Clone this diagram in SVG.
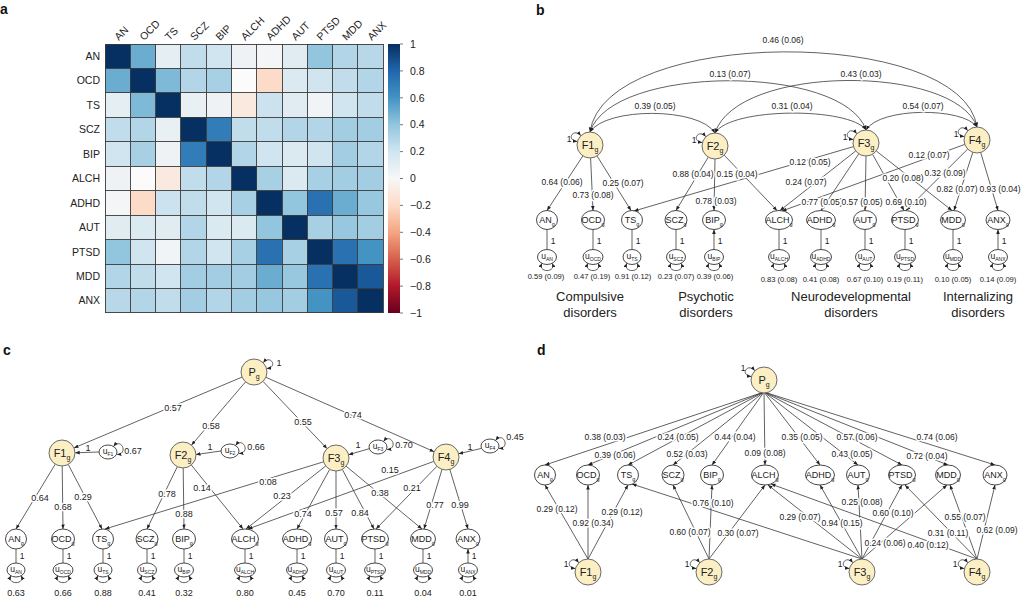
<svg xmlns="http://www.w3.org/2000/svg" width="1024" height="597" viewBox="0 0 1024 597">
<defs>
<marker id="ah" viewBox="0 0 10 10" refX="10" refY="5" markerWidth="4.5" markerHeight="4.5" markerUnits="userSpaceOnUse" orient="auto-start-reverse"><path d="M0,1 L10,5 L0,9 z" fill="#222"/></marker>
<linearGradient id="cb" x1="0" y1="0" x2="0" y2="1">
<stop offset="0" stop-color="#053061"/><stop offset="0.1" stop-color="#2166ac"/><stop offset="0.2" stop-color="#4393c3"/><stop offset="0.3" stop-color="#92c5de"/><stop offset="0.4" stop-color="#d1e5f0"/><stop offset="0.5" stop-color="#f7f7f7"/><stop offset="0.6" stop-color="#fddbc7"/><stop offset="0.7" stop-color="#f4a582"/><stop offset="0.8" stop-color="#d6604d"/><stop offset="0.9" stop-color="#b2182b"/><stop offset="1" stop-color="#67001f"/>
</linearGradient>
</defs>
<style>
text{font-family:"Liberation Sans",Arial,Helvetica,sans-serif;fill:#222}
.pl{font-size:14px;font-weight:bold;fill:#111}
.hl{font-size:10.5px}
.ln{fill:none;stroke:#3a3a3a;stroke-width:0.8}
.ar{marker-end:url(#ah)}
.db{marker-start:url(#ah);marker-end:url(#ah)}
.fac{fill:#fcefc4;stroke:#6b6b6b;stroke-width:1}
.obs{fill:#fff;stroke:#333;stroke-width:0.9}
.nt{font-size:9px;text-anchor:middle}
.ft{font-size:11px;text-anchor:middle}
.ut{font-size:8.5px;text-anchor:middle}
.lb{font-size:8.5px;text-anchor:middle;stroke:#fff;stroke-width:3px;paint-order:stroke;stroke-linejoin:round}
.lc{font-size:9px;text-anchor:middle;stroke:#fff;stroke-width:3px;paint-order:stroke;stroke-linejoin:round}
.lv{font-size:7.6px;text-anchor:middle}
.vc{font-size:9px;text-anchor:middle}
.one{font-size:8.5px;text-anchor:middle}
.grp{font-size:13px;text-anchor:middle}
</style>
<rect width="1024" height="597" fill="#fff"/>

<!-- ================= PANEL A ================= -->
<g id="panel-a">
<text class="pl" x="0" y="14">a</text>
<g class="hl">
<text transform="rotate(-45 118.7 41)" x="118.7" y="41">AN</text>
<text transform="rotate(-45 144 41)" x="144" y="41">OCD</text>
<text transform="rotate(-45 169.3 41)" x="169.3" y="41">TS</text>
<text transform="rotate(-45 194.6 41)" x="194.6" y="41">SCZ</text>
<text transform="rotate(-45 219.9 41)" x="219.9" y="41">BIP</text>
<text transform="rotate(-45 245.2 41)" x="245.2" y="41">ALCH</text>
<text transform="rotate(-45 270.5 41)" x="270.5" y="41">ADHD</text>
<text transform="rotate(-45 295.8 41)" x="295.8" y="41">AUT</text>
<text transform="rotate(-45 321.1 41)" x="321.1" y="41">PTSD</text>
<text transform="rotate(-45 346.4 41)" x="346.4" y="41">MDD</text>
<text transform="rotate(-45 371.7 41)" x="371.7" y="41">ANX</text>
</g>
<g class="hl" text-anchor="end">
<text x="100" y="59.9">AN</text>
<text x="100" y="84.35">OCD</text>
<text x="100" y="108.8">TS</text>
<text x="100" y="133.25">SCZ</text>
<text x="100" y="157.7">BIP</text>
<text x="100" y="182.15">ALCH</text>
<text x="100" y="206.6">ADHD</text>
<text x="100" y="231.05">AUT</text>
<text x="100" y="255.5">PTSD</text>
<text x="100" y="279.95">MDD</text>
<text x="100" y="304.4">ANX</text>
</g>
<g transform="translate(105 44) scale(25.3 24.45)" shape-rendering="crispEdges">
<rect x="0" y="0" width="1" height="1" fill="#053061"/><rect x="1" y="0" width="1" height="1" fill="#6bacd1"/><rect x="2" y="0" width="1" height="1" fill="#e4eef3"/><rect x="3" y="0" width="1" height="1" fill="#c1ddec"/><rect x="4" y="0" width="1" height="1" fill="#d1e5f0"/><rect x="5" y="0" width="1" height="1" fill="#eef2f5"/><rect x="6" y="0" width="1" height="1" fill="#f3f5f6"/><rect x="7" y="0" width="1" height="1" fill="#e0ecf2"/><rect x="8" y="0" width="1" height="1" fill="#92c5de"/><rect x="9" y="0" width="1" height="1" fill="#b2d5e7"/><rect x="10" y="0" width="1" height="1" fill="#b8d8e9"/>
<rect x="0" y="1" width="1" height="1" fill="#6bacd1"/><rect x="1" y="1" width="1" height="1" fill="#053061"/><rect x="2" y="1" width="1" height="1" fill="#7eb9d8"/><rect x="3" y="1" width="1" height="1" fill="#b2d5e7"/><rect x="4" y="1" width="1" height="1" fill="#a8d0e5"/><rect x="5" y="1" width="1" height="1" fill="#fbfbfb"/><rect x="6" y="1" width="1" height="1" fill="#fcdcc9"/><rect x="7" y="1" width="1" height="1" fill="#dbeaf1"/><rect x="8" y="1" width="1" height="1" fill="#d1e5f0"/><rect x="9" y="1" width="1" height="1" fill="#c1ddec"/><rect x="10" y="1" width="1" height="1" fill="#b2d5e7"/>
<rect x="0" y="2" width="1" height="1" fill="#e4eef3"/><rect x="1" y="2" width="1" height="1" fill="#7eb9d8"/><rect x="2" y="2" width="1" height="1" fill="#053061"/><rect x="3" y="2" width="1" height="1" fill="#e8f0f4"/><rect x="4" y="2" width="1" height="1" fill="#eef2f5"/><rect x="5" y="2" width="1" height="1" fill="#fae9df"/><rect x="6" y="2" width="1" height="1" fill="#cce3ef"/><rect x="7" y="2" width="1" height="1" fill="#e0ecf2"/><rect x="8" y="2" width="1" height="1" fill="#f1f4f6"/><rect x="9" y="2" width="1" height="1" fill="#d1e5f0"/><rect x="10" y="2" width="1" height="1" fill="#c1ddec"/>
<rect x="0" y="3" width="1" height="1" fill="#c1ddec"/><rect x="1" y="3" width="1" height="1" fill="#b2d5e7"/><rect x="2" y="3" width="1" height="1" fill="#e8f0f4"/><rect x="3" y="3" width="1" height="1" fill="#053061"/><rect x="4" y="3" width="1" height="1" fill="#327db8"/><rect x="5" y="3" width="1" height="1" fill="#c1ddec"/><rect x="6" y="3" width="1" height="1" fill="#c1ddec"/><rect x="7" y="3" width="1" height="1" fill="#b2d5e7"/><rect x="8" y="3" width="1" height="1" fill="#b2d5e7"/><rect x="9" y="3" width="1" height="1" fill="#a2cde3"/><rect x="10" y="3" width="1" height="1" fill="#a2cde3"/>
<rect x="0" y="4" width="1" height="1" fill="#d1e5f0"/><rect x="1" y="4" width="1" height="1" fill="#a8d0e5"/><rect x="2" y="4" width="1" height="1" fill="#eef2f5"/><rect x="3" y="4" width="1" height="1" fill="#327db8"/><rect x="4" y="4" width="1" height="1" fill="#053061"/><rect x="5" y="4" width="1" height="1" fill="#b2d5e7"/><rect x="6" y="4" width="1" height="1" fill="#d1e5f0"/><rect x="7" y="4" width="1" height="1" fill="#dbeaf1"/><rect x="8" y="4" width="1" height="1" fill="#d1e5f0"/><rect x="9" y="4" width="1" height="1" fill="#a2cde3"/><rect x="10" y="4" width="1" height="1" fill="#b2d5e7"/>
<rect x="0" y="5" width="1" height="1" fill="#eef2f5"/><rect x="1" y="5" width="1" height="1" fill="#fbfbfb"/><rect x="2" y="5" width="1" height="1" fill="#fae9df"/><rect x="3" y="5" width="1" height="1" fill="#c1ddec"/><rect x="4" y="5" width="1" height="1" fill="#b2d5e7"/><rect x="5" y="5" width="1" height="1" fill="#053061"/><rect x="6" y="5" width="1" height="1" fill="#a8d0e5"/><rect x="7" y="5" width="1" height="1" fill="#dbeaf1"/><rect x="8" y="5" width="1" height="1" fill="#a8d0e5"/><rect x="9" y="5" width="1" height="1" fill="#a2cde3"/><rect x="10" y="5" width="1" height="1" fill="#a2cde3"/>
<rect x="0" y="6" width="1" height="1" fill="#f3f5f6"/><rect x="1" y="6" width="1" height="1" fill="#fcdcc9"/><rect x="2" y="6" width="1" height="1" fill="#cce3ef"/><rect x="3" y="6" width="1" height="1" fill="#c1ddec"/><rect x="4" y="6" width="1" height="1" fill="#d1e5f0"/><rect x="5" y="6" width="1" height="1" fill="#a8d0e5"/><rect x="6" y="6" width="1" height="1" fill="#053061"/><rect x="7" y="6" width="1" height="1" fill="#92c5de"/><rect x="8" y="6" width="1" height="1" fill="#2a71b2"/><rect x="9" y="6" width="1" height="1" fill="#6bacd1"/><rect x="10" y="6" width="1" height="1" fill="#98c8e0"/>
<rect x="0" y="7" width="1" height="1" fill="#e0ecf2"/><rect x="1" y="7" width="1" height="1" fill="#dbeaf1"/><rect x="2" y="7" width="1" height="1" fill="#e0ecf2"/><rect x="3" y="7" width="1" height="1" fill="#b2d5e7"/><rect x="4" y="7" width="1" height="1" fill="#dbeaf1"/><rect x="5" y="7" width="1" height="1" fill="#dbeaf1"/><rect x="6" y="7" width="1" height="1" fill="#92c5de"/><rect x="7" y="7" width="1" height="1" fill="#053061"/><rect x="8" y="7" width="1" height="1" fill="#a8d0e5"/><rect x="9" y="7" width="1" height="1" fill="#98c8e0"/><rect x="10" y="7" width="1" height="1" fill="#a2cde3"/>
<rect x="0" y="8" width="1" height="1" fill="#92c5de"/><rect x="1" y="8" width="1" height="1" fill="#d1e5f0"/><rect x="2" y="8" width="1" height="1" fill="#f1f4f6"/><rect x="3" y="8" width="1" height="1" fill="#b2d5e7"/><rect x="4" y="8" width="1" height="1" fill="#d1e5f0"/><rect x="5" y="8" width="1" height="1" fill="#a8d0e5"/><rect x="6" y="8" width="1" height="1" fill="#2a71b2"/><rect x="7" y="8" width="1" height="1" fill="#a8d0e5"/><rect x="8" y="8" width="1" height="1" fill="#053061"/><rect x="9" y="8" width="1" height="1" fill="#2a71b2"/><rect x="10" y="8" width="1" height="1" fill="#4393c3"/>
<rect x="0" y="9" width="1" height="1" fill="#b2d5e7"/><rect x="1" y="9" width="1" height="1" fill="#c1ddec"/><rect x="2" y="9" width="1" height="1" fill="#d1e5f0"/><rect x="3" y="9" width="1" height="1" fill="#a2cde3"/><rect x="4" y="9" width="1" height="1" fill="#a2cde3"/><rect x="5" y="9" width="1" height="1" fill="#a2cde3"/><rect x="6" y="9" width="1" height="1" fill="#6bacd1"/><rect x="7" y="9" width="1" height="1" fill="#98c8e0"/><rect x="8" y="9" width="1" height="1" fill="#2a71b2"/><rect x="9" y="9" width="1" height="1" fill="#053061"/><rect x="10" y="9" width="1" height="1" fill="#1a5999"/>
<rect x="0" y="10" width="1" height="1" fill="#b8d8e9"/><rect x="1" y="10" width="1" height="1" fill="#b2d5e7"/><rect x="2" y="10" width="1" height="1" fill="#c1ddec"/><rect x="3" y="10" width="1" height="1" fill="#a2cde3"/><rect x="4" y="10" width="1" height="1" fill="#b2d5e7"/><rect x="5" y="10" width="1" height="1" fill="#a2cde3"/><rect x="6" y="10" width="1" height="1" fill="#98c8e0"/><rect x="7" y="10" width="1" height="1" fill="#a2cde3"/><rect x="8" y="10" width="1" height="1" fill="#4393c3"/><rect x="9" y="10" width="1" height="1" fill="#1a5999"/><rect x="10" y="10" width="1" height="1" fill="#053061"/>
<path d="M0 0H11M0 1H11M0 2H11M0 3H11M0 4H11M0 5H11M0 6H11M0 7H11M0 8H11M0 9H11M0 10H11M0 11H11M0 0V11M1 0V11M2 0V11M3 0V11M4 0V11M5 0V11M6 0V11M7 0V11M8 0V11M9 0V11M10 0V11M11 0V11" fill="none" stroke="#3a3a3a" stroke-width="0.9" vector-effect="non-scaling-stroke"/>
</g>
<rect x="388" y="44" width="12" height="269" fill="url(#cb)"/>
<path d="M400 44h3M400 70.9h3M400 97.8h3M400 124.7h3M400 151.6h3M400 178.5h3M400 205.4h3M400 232.3h3M400 259.2h3M400 286.1h3M400 313h3" stroke="#555" stroke-width="0.8"/>
<g class="hl">
<text x="410" y="47.7">1</text>
<text x="410" y="74.6">0.8</text>
<text x="410" y="101.5">0.6</text>
<text x="410" y="128.4">0.4</text>
<text x="410" y="155.3">0.2</text>
<text x="410" y="182.2">0</text>
<text x="410" y="209.1">−0.2</text>
<text x="410" y="236">−0.4</text>
<text x="410" y="262.9">−0.6</text>
<text x="410" y="289.8">−0.8</text>
<text x="410" y="316.7">−1</text>
</g>
</g>

<!-- ================= PANEL B ================= -->
<text class="pl" x="536" y="15">b</text>
<g id="b-connectors">
<path class="ln db" d="M590,132 C606,107 699,107 715,133"/>
<path class="ln db" d="M590,132 C612,64 844,64 866,130"/>
<path class="ln db" d="M590,132 C605,26 962,26 977,127"/>
<path class="ln db" d="M715,133 C731,107 850,107 866,130"/>
<path class="ln db" d="M715,133 C737,64 955,64 977,127"/>
<path class="ln db" d="M866,130 C880,107 963,107 977,127"/>
<path class="ln db" d="M580.8,135.8 C574,127 565,140 577.4,141.6"/>
<path class="ln db" d="M705.8,136.8 C699,128 690,141 702.4,142.6"/>
<path class="ln db" d="M856.8,133.8 C850,125 841,138 853.4,139.6"/>
<path class="ln db" d="M967.8,130.8 C961,122 952,135 964.4,136.6"/>
<path class="ln ar" d="M582.9,155.9 L547,210.5"/>
<path class="ln ar" d="M590.6,158 L593,210.5"/>
<path class="ln ar" d="M597,155.9 L631,210.5"/>
<path class="ln ar" d="M708.3,157.1 L676,210.5"/>
<path class="ln ar" d="M715,159 L714,210.5"/>
<path class="ln ar" d="M724.2,155.2 L777,210.5"/>
<path class="ln ar" d="M853.5,146.6 L634,211"/>
<path class="ln ar" d="M855.7,151 L780,210.5"/>
<path class="ln ar" d="M858.8,153.8 L821,210.5"/>
<path class="ln ar" d="M866,156 L865,210.5"/>
<path class="ln ar" d="M872.5,154.2 L904,210.5"/>
<path class="ln ar" d="M876.3,151 L952,210.5"/>
<path class="ln ar" d="M964.8,144.4 L782,211"/>
<path class="ln ar" d="M967.7,149.1 L906,210.5"/>
<path class="ln ar" d="M972.8,152.3 L954,210.5"/>
<path class="ln ar" d="M980.7,152.5 L998,210.5"/>
<path class="ln ar" d="M547,249.5V229.5M593,249.5V229.5M632,249.5V229.5M676,249.5V229.5M714,249.5V229.5"/>
<path class="ln ar" d="M779,249.5V229.5M821,249.5V229.5M865,249.5V229.5M905,249.5V229.5M953,249.5V229.5M998,249.5V229.5"/>
<path class="ln db" d="M542,263.2 C537,273 557,273 552,263.2"/>
<path class="ln db" d="M588,263.2 C583,273 603,273 598,263.2"/>
<path class="ln db" d="M627,263.2 C622,273 642,273 637,263.2"/>
<path class="ln db" d="M671,263.2 C666,273 686,273 681,263.2"/>
<path class="ln db" d="M709,263.2 C704,273 724,273 719,263.2"/>
<path class="ln db" d="M774,263.2 C769,273 789,273 784,263.2"/>
<path class="ln db" d="M816,263.2 C811,273 831,273 826,263.2"/>
<path class="ln db" d="M860,263.2 C855,273 875,273 870,263.2"/>
<path class="ln db" d="M900,263.2 C895,273 915,273 910,263.2"/>
<path class="ln db" d="M948,263.2 C943,273 963,273 958,263.2"/>
<path class="ln db" d="M993,263.2 C988,273 1008,273 1003,263.2"/>
<g class="lb">
<text x="655" y="109">0.39 (0.05)</text>
<text x="730" y="77">0.13 (0.07)</text>
<text x="783" y="43">0.46 (0.06)</text>
<text x="792" y="109">0.31 (0.04)</text>
<text x="861" y="77">0.43 (0.03)</text>
<text x="923" y="109">0.54 (0.07)</text>
<text x="562" y="185">0.64 (0.06)</text>
<text x="593" y="198">0.73 (0.08)</text>
<text x="623" y="186">0.25 (0.07)</text>
<text x="693" y="177">0.88 (0.04)</text>
<text x="737" y="177">0.15 (0.04)</text>
<text x="716" y="204">0.78 (0.03)</text>
<text x="810" y="165">0.12 (0.05)</text>
<text x="806" y="185">0.24 (0.07)</text>
<text x="822" y="205">0.77 (0.05)</text>
<text x="862" y="205">0.57 (0.05)</text>
<text x="906" y="205">0.69 (0.10)</text>
<text x="903" y="181">0.20 (0.08)</text>
<text x="929" y="158">0.12 (0.07)</text>
<text x="945" y="176">0.32 (0.09)</text>
<text x="957" y="192">0.82 (0.07)</text>
<text x="1000" y="192">0.93 (0.04)</text>
</g>
<g class="one">
<text x="569" y="141.5">1</text><text x="694" y="142.5">1</text><text x="845" y="139.5">1</text><text x="956" y="136.5">1</text>
<text x="553" y="244">1</text><text x="599" y="244">1</text><text x="638" y="244">1</text><text x="682" y="244">1</text><text x="720" y="244">1</text>
<text x="785" y="244">1</text><text x="827" y="244">1</text><text x="871" y="244">1</text><text x="911" y="244">1</text><text x="959" y="244">1</text><text x="1004" y="244">1</text>
</g>
</g>
<g id="b-F1"><circle class="fac" cx="590" cy="145" r="13"/><text class="ft" x="590" y="149">F1<tspan font-size="7" dy="3">g</tspan></text></g>
<g id="b-F2"><circle class="fac" cx="715" cy="146" r="13"/><text class="ft" x="715" y="150">F2<tspan font-size="7" dy="3">g</tspan></text></g>
<g id="b-F3"><circle class="fac" cx="866" cy="143" r="13"/><text class="ft" x="866" y="147">F3<tspan font-size="7" dy="3">g</tspan></text></g>
<g id="b-F4"><circle class="fac" cx="977" cy="140" r="13"/><text class="ft" x="977" y="144">F4<tspan font-size="7" dy="3">g</tspan></text></g>
<g id="b-AN"><ellipse class="obs" cx="547" cy="220" rx="10.5" ry="9.5"/><text class="nt" x="547" y="223">AN<tspan font-size="5.5" dy="2.5">g</tspan></text></g>
<g id="b-OCD"><ellipse class="obs" cx="593" cy="220" rx="11.5" ry="9.5"/><text class="nt" x="593" y="223">OCD<tspan font-size="5.5" dy="2.5">g</tspan></text></g>
<g id="b-TS"><ellipse class="obs" cx="632" cy="220" rx="10.5" ry="9.5"/><text class="nt" x="632" y="223">TS<tspan font-size="5.5" dy="2.5">g</tspan></text></g>
<g id="b-SCZ"><ellipse class="obs" cx="676" cy="220" rx="11" ry="9.5"/><text class="nt" x="676" y="223">SCZ<tspan font-size="5.5" dy="2.5">g</tspan></text></g>
<g id="b-BIP"><ellipse class="obs" cx="714" cy="220" rx="11.5" ry="9.5"/><text class="nt" x="714" y="223">BIP<tspan font-size="5.5" dy="2.5">g</tspan></text></g>
<g id="b-ALCH"><ellipse class="obs" cx="779" cy="220" rx="13.5" ry="9.5"/><text class="nt" x="779" y="223">ALCH<tspan font-size="5.5" dy="2.5">g</tspan></text></g>
<g id="b-ADHD"><ellipse class="obs" cx="821" cy="220" rx="14.5" ry="9.5"/><text class="nt" x="821" y="223">ADHD<tspan font-size="5.5" dy="2.5">g</tspan></text></g>
<g id="b-AUT"><ellipse class="obs" cx="865" cy="220" rx="11.5" ry="9.5"/><text class="nt" x="865" y="223">AUT<tspan font-size="5.5" dy="2.5">g</tspan></text></g>
<g id="b-PTSD"><ellipse class="obs" cx="905" cy="220" rx="13.5" ry="9.5"/><text class="nt" x="905" y="223">PTSD<tspan font-size="5.5" dy="2.5">g</tspan></text></g>
<g id="b-MDD"><ellipse class="obs" cx="953" cy="220" rx="12.5" ry="9.5"/><text class="nt" x="953" y="223">MDD<tspan font-size="5.5" dy="2.5">g</tspan></text></g>
<g id="b-ANX"><ellipse class="obs" cx="998" cy="220" rx="12" ry="9.5"/><text class="nt" x="998" y="223">ANX<tspan font-size="5.5" dy="2.5">g</tspan></text></g>
<g id="b-uAN"><ellipse class="obs" cx="547" cy="257" rx="9.5" ry="7.5"/><text class="ut" x="547" y="259">u<tspan font-size="5" dy="1.5">AN</tspan></text></g>
<g id="b-uOCD"><ellipse class="obs" cx="593" cy="257" rx="10" ry="7.5"/><text class="ut" x="593" y="259">u<tspan font-size="5" dy="1.5">OCD</tspan></text></g>
<g id="b-uTS"><ellipse class="obs" cx="632" cy="257" rx="9" ry="7.5"/><text class="ut" x="632" y="259">u<tspan font-size="5" dy="1.5">TS</tspan></text></g>
<g id="b-uSCZ"><ellipse class="obs" cx="676" cy="257" rx="9.5" ry="7.5"/><text class="ut" x="676" y="259">u<tspan font-size="5" dy="1.5">SCZ</tspan></text></g>
<g id="b-uBIP"><ellipse class="obs" cx="714" cy="257" rx="9.5" ry="7.5"/><text class="ut" x="714" y="259">u<tspan font-size="5" dy="1.5">BIP</tspan></text></g>
<g id="b-uALCH"><ellipse class="obs" cx="779" cy="257" rx="10.5" ry="7.5"/><text class="ut" x="779" y="259">u<tspan font-size="5" dy="1.5">ALCH</tspan></text></g>
<g id="b-uADHD"><ellipse class="obs" cx="821" cy="257" rx="10.5" ry="7.5"/><text class="ut" x="821" y="259">u<tspan font-size="5" dy="1.5">ADHD</tspan></text></g>
<g id="b-uAUT"><ellipse class="obs" cx="865" cy="257" rx="9.5" ry="7.5"/><text class="ut" x="865" y="259">u<tspan font-size="5" dy="1.5">AUT</tspan></text></g>
<g id="b-uPTSD"><ellipse class="obs" cx="905" cy="257" rx="10.5" ry="7.5"/><text class="ut" x="905" y="259">u<tspan font-size="5" dy="1.5">PTSD</tspan></text></g>
<g id="b-uMDD"><ellipse class="obs" cx="953" cy="257" rx="9.5" ry="7.5"/><text class="ut" x="953" y="259">u<tspan font-size="5" dy="1.5">MDD</tspan></text></g>
<g id="b-uANX"><ellipse class="obs" cx="998" cy="257" rx="9.5" ry="7.5"/><text class="ut" x="998" y="259">u<tspan font-size="5" dy="1.5">ANX</tspan></text></g>
<g id="b-values" class="lv">
<text x="546" y="279">0.59 (0.09)</text><text x="592" y="279">0.47 (0.19)</text><text x="633" y="279">0.91 (0.12)</text><text x="676" y="279">0.23 (0.07)</text><text x="715" y="279">0.39 (0.06)</text>
<text x="779" y="282">0.83 (0.08)</text><text x="821" y="282">0.41 (0.08)</text><text x="865" y="282">0.67 (0.10)</text><text x="905" y="282">0.19 (0.11)</text><text x="953" y="282">0.10 (0.05)</text><text x="998" y="282">0.14 (0.09)</text>
</g>
<g id="b-groups" class="grp">
<text x="590" y="301">Compulsive</text><text x="590" y="317">disorders</text>
<text x="706" y="301">Psychotic</text><text x="706" y="317">disorders</text>
<text x="851" y="301">Neurodevelopmental</text><text x="851" y="317">disorders</text>
<text x="978" y="301">Internalizing</text><text x="978" y="317">disorders</text>
</g>

<!-- ================= PANEL C ================= -->
<text class="pl" x="3" y="355">c</text>
<g id="c-connectors">
<path class="ln db" d="M263.2,362.8 C270,354 279,367 266.6,368.6"/>
<path class="ln ar" d="M242,377.1 L74,447.9"/>
<path class="ln ar" d="M245.5,381.9 L191.5,445.1"/>
<path class="ln ar" d="M263,381.4 L327,448.6"/>
<path class="ln ar" d="M265.9,377.3 L434.1,451.7"/>
<path class="ln ar" d="M99,452 L75.2,452.8"/>
<path class="ln ar" d="M221,451 L196,454.5"/>
<path class="ln ar" d="M369.3,448.7 L348.6,454.7"/>
<path class="ln ar" d="M481.3,448.4 L458.6,453.8"/>
<path class="ln db" d="M113.5,446.5 C121,437 129,454 117,454.5"/>
<path class="ln db" d="M235.5,445.5 C243,436 251,453 239,453.5"/>
<path class="ln db" d="M383.5,441.5 C391,432 399,449 387,449.5"/>
<path class="ln db" d="M495.5,440.5 C503,431 511,448 499,448.5"/>
<path class="ln ar" d="M55.3,464.1 L16,529"/>
<path class="ln ar" d="M62.2,466 L63,529"/>
<path class="ln ar" d="M68.2,464.4 L102,529"/>
<path class="ln ar" d="M177.3,466.7 L147,529"/>
<path class="ln ar" d="M183.2,468 L184,529"/>
<path class="ln ar" d="M191.3,465 L243,529"/>
<path class="ln ar" d="M323.6,461.8 L105,529"/>
<path class="ln ar" d="M325.7,466 L246,529"/>
<path class="ln ar" d="M329.7,469.4 L297,529"/>
<path class="ln ar" d="M336,471 L336,529"/>
<path class="ln ar" d="M342.3,469.4 L374,529"/>
<path class="ln ar" d="M346.1,466.2 L422,529"/>
<path class="ln ar" d="M433.8,461.4 L248,529"/>
<path class="ln ar" d="M436.9,466.3 L376,529"/>
<path class="ln ar" d="M442,469.4 L424,529"/>
<path class="ln ar" d="M449.8,469.4 L468,529"/>
<path class="ln ar" d="M16,563V549M63,563V549M103,563V549M147,563V549M184,563V549M245,563V549M297,563V549M336,563V549M375,563V549M423,563V549M468,563V549"/>
<path class="ln db" d="M11,575.5 C6,585 26,585 21,575.5"/>
<path class="ln db" d="M58,575.5 C53,585 73,585 68,575.5"/>
<path class="ln db" d="M98,575.5 C93,585 113,585 108,575.5"/>
<path class="ln db" d="M142,575.5 C137,585 157,585 152,575.5"/>
<path class="ln db" d="M179,575.5 C174,585 194,585 189,575.5"/>
<path class="ln db" d="M240,575.5 C235,585 255,585 250,575.5"/>
<path class="ln db" d="M292,575.5 C287,585 307,585 302,575.5"/>
<path class="ln db" d="M331,575.5 C326,585 346,585 341,575.5"/>
<path class="ln db" d="M370,575.5 C365,585 385,585 380,575.5"/>
<path class="ln db" d="M418,575.5 C413,585 433,585 428,575.5"/>
<path class="ln db" d="M463,575.5 C458,585 478,585 473,575.5"/>
<g class="lc">
<text x="173" y="411.2">0.57</text>
<text x="211" y="429.2">0.58</text>
<text x="303" y="425.2">0.55</text>
<text x="353" y="418.2">0.74</text>
<text x="40" y="501.2">0.64</text>
<text x="63" y="510.2">0.68</text>
<text x="83" y="500.2">0.29</text>
<text x="167" y="497.2">0.78</text>
<text x="202" y="491.2">0.14</text>
<text x="184" y="517.2">0.88</text>
<text x="268" y="485.2">0.08</text>
<text x="282" y="499.2">0.23</text>
<text x="390" y="473.2">0.15</text>
<text x="380" y="496.2">0.38</text>
<text x="412" y="491.2">0.21</text>
<text x="303" y="517.2">0.74</text>
<text x="334" y="516.2">0.57</text>
<text x="360" y="516.2">0.84</text>
<text x="435" y="508.2">0.77</text>
<text x="460" y="508.2">0.99</text>
</g>
<g class="vc">
<text x="279" y="365.5">1</text>
<text x="88" y="450.5">1</text><text x="210" y="449.5">1</text><text x="358" y="447.5">1</text><text x="470" y="449.5">1</text>
<text x="133" y="453.5">0.67</text><text x="256" y="450">0.66</text><text x="404" y="447.5">0.70</text><text x="515" y="440">0.45</text>
</g>
<g class="one">
<text x="22" y="559">1</text><text x="69" y="559">1</text><text x="109" y="559">1</text><text x="153" y="559">1</text><text x="190" y="559">1</text><text x="251" y="559">1</text><text x="303" y="559">1</text><text x="342" y="559">1</text><text x="381" y="559">1</text><text x="429" y="559">1</text><text x="474" y="559">1</text>
</g>
</g>
<g id="c-Pg"><circle class="fac" cx="254" cy="372" r="13"/><text class="ft" x="254" y="376">P<tspan font-size="7" dy="3">g</tspan></text></g>
<g id="c-F1"><circle class="fac" cx="62" cy="453" r="13"/><text class="ft" x="62" y="457">F1<tspan font-size="7" dy="3">g</tspan></text></g>
<g id="c-F2"><circle class="fac" cx="183" cy="455" r="13"/><text class="ft" x="183" y="459">F2<tspan font-size="7" dy="3">g</tspan></text></g>
<g id="c-F3"><circle class="fac" cx="336" cy="458" r="13"/><text class="ft" x="336" y="462">F3<tspan font-size="7" dy="3">g</tspan></text></g>
<g id="c-F4"><circle class="fac" cx="446" cy="457" r="13"/><text class="ft" x="446" y="461">F4<tspan font-size="7" dy="3">g</tspan></text></g>
<g id="c-uF1"><ellipse class="obs" cx="108" cy="452" rx="9" ry="7"/><text class="ut" x="108" y="454">u<tspan font-size="5" dy="1.5">F1</tspan></text></g>
<g id="c-uF2"><ellipse class="obs" cx="230" cy="451" rx="9" ry="7"/><text class="ut" x="230" y="453">u<tspan font-size="5" dy="1.5">F2</tspan></text></g>
<g id="c-uF3"><ellipse class="obs" cx="378" cy="447" rx="9" ry="7"/><text class="ut" x="378" y="449">u<tspan font-size="5" dy="1.5">F3</tspan></text></g>
<g id="c-uF4"><ellipse class="obs" cx="490" cy="446" rx="9" ry="7"/><text class="ut" x="490" y="448">u<tspan font-size="5" dy="1.5">F4</tspan></text></g>
<g id="c-AN"><ellipse class="obs" cx="16" cy="539" rx="10.5" ry="10"/><text class="nt" x="16" y="542">AN<tspan font-size="5.5" dy="2.5">g</tspan></text></g>
<g id="c-OCD"><ellipse class="obs" cx="63" cy="539" rx="11.5" ry="10"/><text class="nt" x="63" y="542">OCD<tspan font-size="5.5" dy="2.5">g</tspan></text></g>
<g id="c-TS"><ellipse class="obs" cx="103" cy="539" rx="10.5" ry="10"/><text class="nt" x="103" y="542">TS<tspan font-size="5.5" dy="2.5">g</tspan></text></g>
<g id="c-SCZ"><ellipse class="obs" cx="147" cy="539" rx="11" ry="10"/><text class="nt" x="147" y="542">SCZ<tspan font-size="5.5" dy="2.5">g</tspan></text></g>
<g id="c-BIP"><ellipse class="obs" cx="184" cy="539" rx="11.5" ry="10"/><text class="nt" x="184" y="542">BIP<tspan font-size="5.5" dy="2.5">g</tspan></text></g>
<g id="c-ALCH"><ellipse class="obs" cx="245" cy="539" rx="13.5" ry="10"/><text class="nt" x="245" y="542">ALCH<tspan font-size="5.5" dy="2.5">g</tspan></text></g>
<g id="c-ADHD"><ellipse class="obs" cx="297" cy="539" rx="14.5" ry="10"/><text class="nt" x="297" y="542">ADHD<tspan font-size="5.5" dy="2.5">g</tspan></text></g>
<g id="c-AUT"><ellipse class="obs" cx="336" cy="539" rx="11.5" ry="10"/><text class="nt" x="336" y="542">AUT<tspan font-size="5.5" dy="2.5">g</tspan></text></g>
<g id="c-PTSD"><ellipse class="obs" cx="375" cy="539" rx="13.5" ry="10"/><text class="nt" x="375" y="542">PTSD<tspan font-size="5.5" dy="2.5">g</tspan></text></g>
<g id="c-MDD"><ellipse class="obs" cx="423" cy="539" rx="12.5" ry="10"/><text class="nt" x="423" y="542">MDD<tspan font-size="5.5" dy="2.5">g</tspan></text></g>
<g id="c-ANX"><ellipse class="obs" cx="468" cy="539" rx="12" ry="10"/><text class="nt" x="468" y="542">ANX<tspan font-size="5.5" dy="2.5">g</tspan></text></g>
<g id="c-uAN"><ellipse class="obs" cx="16" cy="570" rx="9" ry="7"/><text class="ut" x="16" y="572">u<tspan font-size="5" dy="1.5">AN</tspan></text></g>
<g id="c-uOCD"><ellipse class="obs" cx="63" cy="570" rx="10" ry="7"/><text class="ut" x="63" y="572">u<tspan font-size="5" dy="1.5">OCD</tspan></text></g>
<g id="c-uTS"><ellipse class="obs" cx="103" cy="570" rx="9" ry="7"/><text class="ut" x="103" y="572">u<tspan font-size="5" dy="1.5">TS</tspan></text></g>
<g id="c-uSCZ"><ellipse class="obs" cx="147" cy="570" rx="9.5" ry="7"/><text class="ut" x="147" y="572">u<tspan font-size="5" dy="1.5">SCZ</tspan></text></g>
<g id="c-uBIP"><ellipse class="obs" cx="184" cy="570" rx="9.5" ry="7"/><text class="ut" x="184" y="572">u<tspan font-size="5" dy="1.5">BIP</tspan></text></g>
<g id="c-uALCH"><ellipse class="obs" cx="245" cy="570" rx="10.5" ry="7"/><text class="ut" x="245" y="572">u<tspan font-size="5" dy="1.5">ALCH</tspan></text></g>
<g id="c-uADHD"><ellipse class="obs" cx="297" cy="570" rx="10.5" ry="7"/><text class="ut" x="297" y="572">u<tspan font-size="5" dy="1.5">ADHD</tspan></text></g>
<g id="c-uAUT"><ellipse class="obs" cx="336" cy="570" rx="9.5" ry="7"/><text class="ut" x="336" y="572">u<tspan font-size="5" dy="1.5">AUT</tspan></text></g>
<g id="c-uPTSD"><ellipse class="obs" cx="375" cy="570" rx="10.5" ry="7"/><text class="ut" x="375" y="572">u<tspan font-size="5" dy="1.5">PTSD</tspan></text></g>
<g id="c-uMDD"><ellipse class="obs" cx="423" cy="570" rx="9.5" ry="7"/><text class="ut" x="423" y="572">u<tspan font-size="5" dy="1.5">MDD</tspan></text></g>
<g id="c-uANX"><ellipse class="obs" cx="468" cy="570" rx="9.5" ry="7"/><text class="ut" x="468" y="572">u<tspan font-size="5" dy="1.5">ANX</tspan></text></g>
<g id="c-values" class="vc">
<text x="16" y="595.5">0.63</text><text x="63" y="595.5">0.66</text><text x="103" y="595.5">0.88</text><text x="147" y="595.5">0.41</text><text x="184" y="595.5">0.32</text><text x="245" y="595.5">0.80</text><text x="297" y="595.5">0.45</text><text x="336" y="595.5">0.70</text><text x="375" y="595.5">0.11</text><text x="423" y="595.5">0.04</text><text x="468" y="595.5">0.01</text>
</g>

<!-- ================= PANEL D ================= -->
<text class="pl" x="537" y="355">d</text>
<g id="d-connectors">
<path class="ln db" d="M754.8,370.8 C748,362 739,375 751.4,376.6"/>
<path class="ln db" d="M578.8,562.8 C572,554 563,567 575.4,568.6"/>
<path class="ln db" d="M699.8,562.8 C693,554 684,567 696.4,568.6"/>
<path class="ln db" d="M852.8,562.8 C846,554 837,567 849.4,568.6"/>
<path class="ln db" d="M967.8,562.8 C961,554 952,567 964.4,568.6"/>
<path class="ln ar" d="M764,392 L545,465"/>
<path class="ln ar" d="M764,392 L588,465"/>
<path class="ln ar" d="M764,392 L628,465"/>
<path class="ln ar" d="M764,392 L673,465"/>
<path class="ln ar" d="M764,392 L712,465"/>
<path class="ln ar" d="M764,392 L765,465"/>
<path class="ln ar" d="M764,392 L820,465"/>
<path class="ln ar" d="M764,392 L858,465"/>
<path class="ln ar" d="M764,392 L902,465"/>
<path class="ln ar" d="M764,392 L948,465" stroke-width="1.4"/>
<path class="ln ar" d="M764,392 L995,465"/>
<path class="ln ar" d="M588,559 L545,485"/>
<path class="ln ar" d="M588,559 L588,485"/>
<path class="ln ar" d="M588,559 L628,485"/>
<path class="ln ar" d="M709,559 L673,485"/>
<path class="ln ar" d="M709,559 L712,485"/>
<path class="ln ar" d="M709,559 L765,485"/>
<path class="ln ar" d="M862,559 L632,484"/>
<path class="ln ar" d="M862,559 L768,485"/>
<path class="ln ar" d="M862,559 L820,485"/>
<path class="ln ar" d="M862,559 L858,485"/>
<path class="ln ar" d="M862,559 L902,485"/>
<path class="ln ar" d="M862,559 L947,485"/>
<path class="ln ar" d="M977,559 L771,484"/>
<path class="ln ar" d="M977,559 L905,485"/>
<path class="ln ar" d="M977,559 L950,485"/>
<path class="ln ar" d="M977,559 L995,485"/>
<g class="lb">
<text x="605" y="440">0.38 (0.03)</text>
<text x="615" y="458">0.39 (0.06)</text>
<text x="678" y="440">0.24 (0.05)</text>
<text x="687" y="457">0.52 (0.03)</text>
<text x="735" y="440">0.44 (0.04)</text>
<text x="765" y="456">0.09 (0.08)</text>
<text x="802" y="440">0.35 (0.05)</text>
<text x="852" y="457">0.43 (0.05)</text>
<text x="857" y="440">0.57 (0.06)</text>
<text x="927" y="459">0.72 (0.04)</text>
<text x="937" y="440">0.74 (0.06)</text>
<text x="557" y="512">0.29 (0.12)</text>
<text x="593" y="526">0.92 (0.34)</text>
<text x="622" y="515">0.29 (0.12)</text>
<text x="713" y="506">0.76 (0.10)</text>
<text x="690" y="535">0.60 (0.07)</text>
<text x="738" y="536">0.30 (0.07)</text>
<text x="862" y="505">0.25 (0.08)</text>
<text x="800" y="520">0.29 (0.07)</text>
<text x="842" y="526">0.94 (0.15)</text>
<text x="893" y="516">0.60 (0.10)</text>
<text x="885" y="546">0.24 (0.06)</text>
<text x="928" y="548">0.40 (0.12)</text>
<text x="965" y="520">0.55 (0.07)</text>
<text x="948" y="536">0.31 (0.11)</text>
<text x="997" y="533">0.62 (0.09)</text>
</g>
<g class="one">
<text x="743" y="371">1</text><text x="566" y="567">1</text><text x="687" y="567">1</text><text x="840" y="567">1</text><text x="955" y="567">1</text>
</g>
</g>
<g id="d-Pg"><circle class="fac" cx="764" cy="380" r="13"/><text class="ft" x="764" y="384">P<tspan font-size="7" dy="3">g</tspan></text></g>
<g id="d-F1"><circle class="fac" cx="588" cy="572" r="13"/><text class="ft" x="588" y="576">F1<tspan font-size="7" dy="3">g</tspan></text></g>
<g id="d-F2"><circle class="fac" cx="709" cy="572" r="13"/><text class="ft" x="709" y="576">F2<tspan font-size="7" dy="3">g</tspan></text></g>
<g id="d-F3"><circle class="fac" cx="862" cy="572" r="13"/><text class="ft" x="862" y="576">F3<tspan font-size="7" dy="3">g</tspan></text></g>
<g id="d-F4"><circle class="fac" cx="977" cy="572" r="13"/><text class="ft" x="977" y="576">F4<tspan font-size="7" dy="3">g</tspan></text></g>
<g id="d-AN"><ellipse class="obs" cx="545" cy="475" rx="10.5" ry="10"/><text class="nt" x="545" y="478">AN<tspan font-size="5.5" dy="2.5">g</tspan></text></g>
<g id="d-OCD"><ellipse class="obs" cx="588" cy="475" rx="11.5" ry="10"/><text class="nt" x="588" y="478">OCD<tspan font-size="5.5" dy="2.5">g</tspan></text></g>
<g id="d-TS"><ellipse class="obs" cx="628" cy="475" rx="10.5" ry="10"/><text class="nt" x="628" y="478">TS<tspan font-size="5.5" dy="2.5">g</tspan></text></g>
<g id="d-SCZ"><ellipse class="obs" cx="673" cy="475" rx="11" ry="10"/><text class="nt" x="673" y="478">SCZ<tspan font-size="5.5" dy="2.5">g</tspan></text></g>
<g id="d-BIP"><ellipse class="obs" cx="712" cy="475" rx="11.5" ry="10"/><text class="nt" x="712" y="478">BIP<tspan font-size="5.5" dy="2.5">g</tspan></text></g>
<g id="d-ALCH"><ellipse class="obs" cx="765" cy="475" rx="13.5" ry="10"/><text class="nt" x="765" y="478">ALCH<tspan font-size="5.5" dy="2.5">g</tspan></text></g>
<g id="d-ADHD"><ellipse class="obs" cx="820" cy="475" rx="14.5" ry="10"/><text class="nt" x="820" y="478">ADHD<tspan font-size="5.5" dy="2.5">g</tspan></text></g>
<g id="d-AUT"><ellipse class="obs" cx="858" cy="475" rx="11.5" ry="10"/><text class="nt" x="858" y="478">AUT<tspan font-size="5.5" dy="2.5">g</tspan></text></g>
<g id="d-PTSD"><ellipse class="obs" cx="902" cy="475" rx="13.5" ry="10"/><text class="nt" x="902" y="478">PTSD<tspan font-size="5.5" dy="2.5">g</tspan></text></g>
<g id="d-MDD"><ellipse class="obs" cx="948" cy="475" rx="12.5" ry="10"/><text class="nt" x="948" y="478">MDD<tspan font-size="5.5" dy="2.5">g</tspan></text></g>
<g id="d-ANX"><ellipse class="obs" cx="995" cy="475" rx="12" ry="10"/><text class="nt" x="995" y="478">ANX<tspan font-size="5.5" dy="2.5">g</tspan></text></g>
</svg>
